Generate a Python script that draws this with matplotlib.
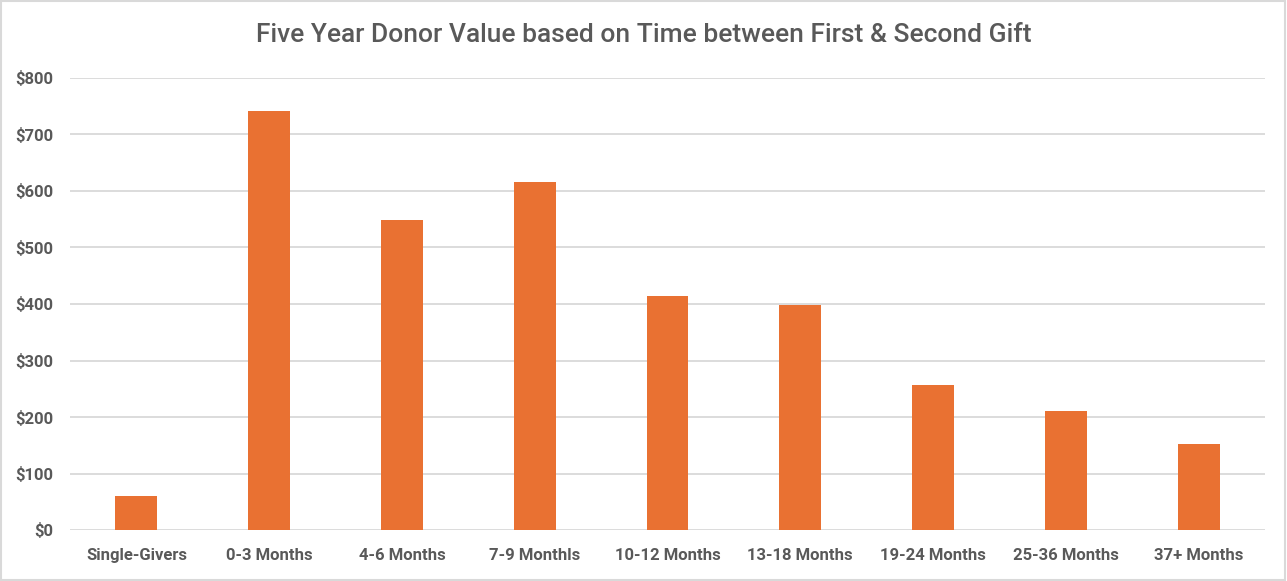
import matplotlib
matplotlib.use("Agg")
import matplotlib.pyplot as plt
from matplotlib.patches import Rectangle
from matplotlib.ticker import FuncFormatter

# Donor value by time between first and second gift
categories = ['Single-Givers', '0-3 Months', '4-6 Months', '7-9 Monthls', '10-12 Months',
              '13-18 Months', '19-24 Months', '25-36 Months', '37+ Months']
values = [60, 741, 549, 616, 414, 399, 257, 210, 153]
yticks = [0, 100, 200, 300, 400, 500, 600, 700, 800]

plt.rcParams['font.family'] = ['Roboto', 'DejaVu Sans']
text_color = '#595959'
grid_color = '#d9d9d9'

fig = plt.figure(figsize=(12.87, 5.81), dpi=100)
ax = fig.add_axes([70 / 1287, 51 / 581, 1195 / 1287, 452 / 581])

x = range(len(categories))
ax.bar(x, values, width=0.315, color='#e97132', zorder=3)

ax.set_xlim(-0.5, len(categories) - 0.5)
ax.set_ylim(0, 800)
ax.set_yticks(yticks)
ax.yaxis.set_major_formatter(FuncFormatter(lambda v, p: f'${v:,.0f}'))
ax.set_xticks(list(x))
ax.set_xticklabels(categories)

ax.grid(axis='y', color=grid_color, linewidth=1.3, zorder=0)
for s in ax.spines.values():
    s.set_visible(False)
ax.tick_params(axis='both', length=0, labelsize=12, labelcolor=text_color)
ax.tick_params(axis='y', pad=12)
ax.tick_params(axis='x', pad=13)
for lbl in ax.get_xticklabels() + ax.get_yticklabels():
    lbl.set_fontweight('bold')

fig.text(0.5, 1 - 35 / 581, 'Five Year Donor Value based on Time between First & Second Gift',
         ha='center', va='center', fontsize=19, color=text_color, fontweight='medium')

# chart border
fig.patches.append(Rectangle((0.0005, 0.001), 0.998, 0.997, transform=fig.transFigure,
                             fill=False, edgecolor=grid_color, linewidth=1.5))

fig.savefig('out.png', dpi=100)
